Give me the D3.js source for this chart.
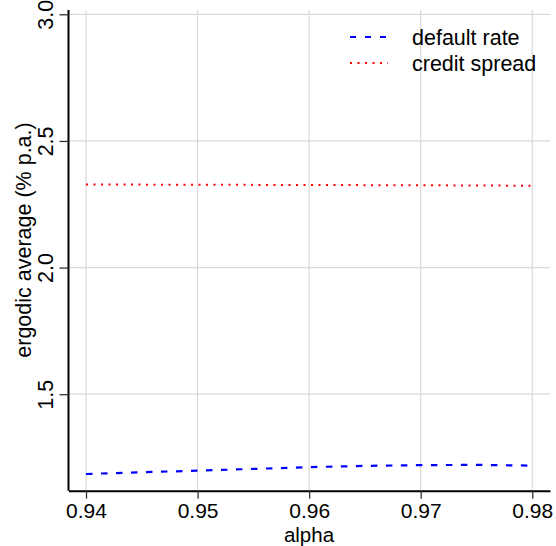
<!DOCTYPE html>
<html>
<head>
<meta charset="utf-8">
<script src="https://cdn.jsdelivr.net/npm/d3@7"></script>
<style>
  html, body { margin: 0; padding: 0; background: #fff; }
  text { font-family: "Liberation Sans", Arial, Helvetica, sans-serif; }
</style>
</head>
<body>
<svg id="chart" width="556" height="546"></svg>
<script>
// ---- data ----
const alpha = [0.94, 0.945, 0.95, 0.955, 0.96, 0.965, 0.97, 0.975, 0.98];
const defaultRate = [1.185, 1.192, 1.198, 1.205, 1.212, 1.217, 1.220, 1.221, 1.218];
const creditSpread = [2.328, 2.3275, 2.327, 2.3265, 2.326, 2.3255, 2.325, 2.324, 2.323];
const xTicks = [0.94, 0.95, 0.96, 0.97, 0.98];
const yTicks = [1.5, 2.0, 2.5, 3.0];
const seriesNames = ["default rate", "credit spread"];

const svg = d3.select("#chart");
const x = d3.scaleLinear().domain([0.93843, 0.98159]).range([68.5, 550]);
const y = d3.scaleLinear().domain([1.119, 3.0]).range([490.7, 14.3]);
const fs = 21.5;

// gridlines
svg.append("g").selectAll("line.vg").data(xTicks).join("line")
  .attr("x1", d => x(d)).attr("x2", d => x(d))
  .attr("y1", 10).attr("y2", 490.7)
  .attr("stroke", "#d9d9d9").attr("stroke-width", 1.2);
svg.append("g").selectAll("line.hg").data(yTicks).join("line")
  .attr("x1", 68.5).attr("x2", 550)
  .attr("y1", d => y(d)).attr("y2", d => y(d))
  .attr("stroke", "#d9d9d9").attr("stroke-width", 1.2);

// lines
const line = (vals) => d3.line().x((d, i) => x(alpha[i])).y(d => y(d))(vals);
svg.append("path").attr("d", line(creditSpread))
  .attr("fill", "none").attr("stroke", "#ff0000").attr("stroke-width", 2)
  .attr("stroke-dasharray", "2,5.5");
svg.append("path").attr("d", line(defaultRate))
  .attr("fill", "none").attr("stroke", "#0000ff").attr("stroke-width", 2.2)
  .attr("stroke-dasharray", "6.5,8.5");

// axes
const xAxis = d3.axisBottom(x).tickValues(xTicks).tickFormat(d3.format(".2f"))
  .tickSize(8).tickSizeOuter(0).tickPadding(4);
const gx = svg.append("g").attr("transform", "translate(0,490.7)").call(xAxis);
gx.select(".domain").attr("stroke", "#000").attr("stroke-width", 2);
gx.selectAll(".tick line").attr("stroke", "#333").attr("stroke-width", 1.3);
gx.selectAll(".tick text").attr("font-size", 21).attr("fill", "#000")
  .attr("font-family", "Liberation Sans, Arial, sans-serif")
  .attr("dy", null).attr("y", 27.3);

const yAxis = d3.axisLeft(y).tickValues(yTicks).tickFormat(d3.format(".1f"))
  .tickSize(9).tickSizeOuter(0);
const gy = svg.append("g").attr("transform", "translate(68.5,0)").call(yAxis);
gy.select(".domain").attr("d", "M0," + (10) + "V" + 490.7).attr("stroke", "#000").attr("stroke-width", 2);
gy.selectAll(".tick line").attr("stroke", "#333").attr("stroke-width", 1.3);
gy.selectAll(".tick text").attr("font-size", fs).attr("fill", "#000")
  .attr("font-family", "Liberation Sans, Arial, sans-serif")
  .attr("x", null).attr("dy", null)
  .attr("text-anchor", "middle")
  .attr("transform", "translate(-15.5,0) rotate(-90)");

// axis titles
svg.append("text").attr("x", 309).attr("y", 541.5)
  .attr("text-anchor", "middle").attr("font-size", 20.5).text("alpha");
svg.append("text").attr("transform", "translate(31,240) rotate(-90)")
  .attr("text-anchor", "middle").attr("font-size", fs).text("ergodic average (% p.a.)");

// legend
const legY = [37, 63];
const legStyles = [
  { color: "#0000ff", dash: "6,9", w: 2.2 },
  { color: "#ff0000", dash: "2,5.5", w: 2 }
];
const leg = svg.append("g");
seriesNames.forEach((name, i) => {
  leg.append("line").attr("x1", 350).attr("x2", 388)
    .attr("y1", legY[i]).attr("y2", legY[i])
    .attr("stroke", legStyles[i].color).attr("stroke-width", legStyles[i].w)
    .attr("stroke-dasharray", legStyles[i].dash);
  leg.append("text").attr("x", 412).attr("y", legY[i] + 8)
    .attr("font-size", fs).text(name);
});
</script>
</body>
</html>
